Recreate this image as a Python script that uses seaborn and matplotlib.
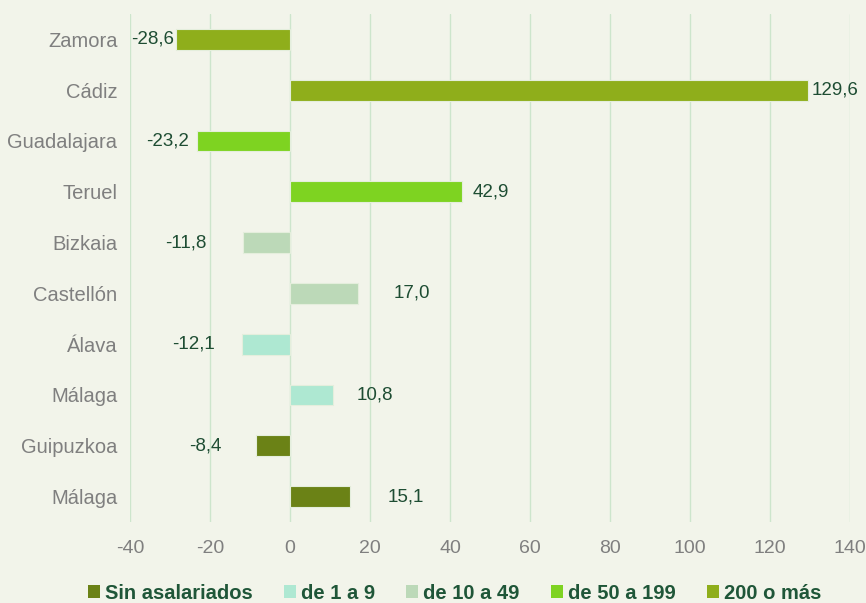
import pandas as pd
import matplotlib.pyplot as plt
import seaborn as sns
from matplotlib.patches import Patch

# Datos: variación (%) por provincia y tamaño de empresa
provincias = ['Zamora', 'Cádiz', 'Guadalajara', 'Teruel', 'Bizkaia',
              'Castellón', 'Álava', 'Málaga', 'Guipuzkoa', 'Málaga']
valores = [-28.6, 129.6, -23.2, 42.9, -11.8, 17.0, -12.1, 10.8, -8.4, 15.1]
tamanos = ['200 o más', '200 o más', 'de 50 a 199', 'de 50 a 199',
           'de 10 a 49', 'de 10 a 49', 'de 1 a 9', 'de 1 a 9',
           'Sin asalariados', 'Sin asalariados']
orden_leyenda = ['Sin asalariados', 'de 1 a 9', 'de 10 a 49', 'de 50 a 199', '200 o más']
colores = {'Sin asalariados': '#6b8216', 'de 1 a 9': '#aee8d2',
           'de 10 a 49': '#bcd9b8', 'de 50 a 199': '#7ed321', '200 o más': '#8fae1b'}

# desplazamiento (px) de cada etiqueta respecto al extremo de la barra
desplaz = [-1, 2, -6, 8, -26, 26, -19, 17, -25, 27]

sns.set_style('white')
plt.rcParams['font.family'] = ['Liberation Sans', 'DejaVu Sans']
plt.rcParams['axes.unicode_minus'] = False

fondo = '#f2f4ea'
df = pd.DataFrame({'fila': [str(i) for i in range(len(valores))],
                   'valor': valores, 'tamano': tamanos})

fig = plt.figure(figsize=(8.66, 6.03), dpi=100, facecolor=fondo)
ax = fig.add_axes([130 / 866, 1 - 522 / 603, 720 / 866, 508 / 603])
ax.set_facecolor(fondo)

sns.barplot(data=df, x='valor', y='fila', hue='tamano', palette=colores,
            dodge=False, width=0.41, orient='h', legend=False, saturation=1,
            edgecolor='#e4eedc', linewidth=0.8, ax=ax, zorder=3)

ax.set_xlim(-40, 140)
ax.set_xticks(range(-40, 141, 20))
ax.set_ylim(len(valores) - 0.5, -0.5)
ax.set_yticks(range(len(valores)))
ax.set_yticklabels(provincias)
ax.grid(axis='x', color='#cde5cc', linewidth=1, zorder=0)
for s in ax.spines.values():
    s.set_visible(False)
ax.tick_params(length=0, colors='#7f7f7f', labelsize=14)
ax.tick_params(axis='y', pad=9, labelsize=14.5)
ax.tick_params(axis='x', pad=13)
ax.set_xlabel('')
ax.set_ylabel('')

for i, (v, dx) in enumerate(zip(valores, desplaz)):
    texto = f'{v:.1f}'.replace('.', ',')
    ax.annotate(texto, (v, i), xytext=(dx, 0), textcoords='offset points',
                ha='left' if dx > 0 else 'right', va='center',
                fontsize=13.5, color='#1e4d33')

handles = [Patch(facecolor=colores[t], edgecolor='none') for t in orden_leyenda]
fig.legend(handles, orden_leyenda, loc='lower center', ncol=5,
           bbox_to_anchor=(0.525, -0.03), frameon=False,
           prop={'weight': 'bold', 'size': 14.5}, labelcolor='#1f5638',
           handlelength=0.6, handleheight=0.6, handletextpad=0.25,
           columnspacing=1.55)

plt.savefig('out.png', dpi=100, facecolor=fondo)
